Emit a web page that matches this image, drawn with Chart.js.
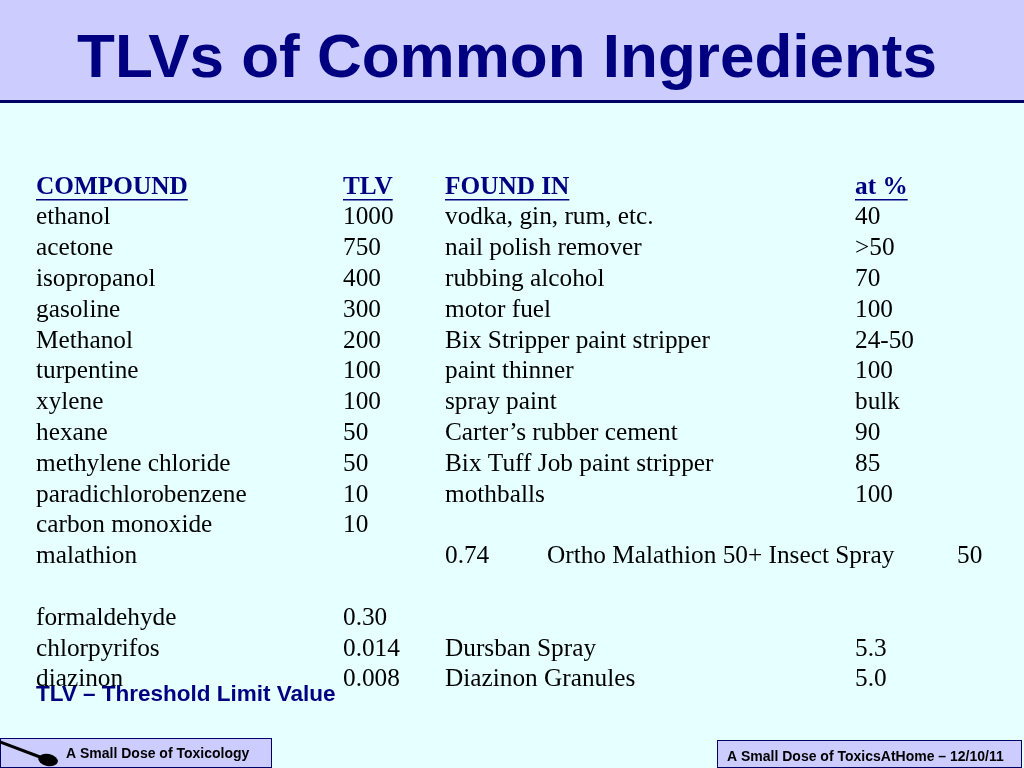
<!DOCTYPE html>
<html><head><meta charset="utf-8">
<script src="https://cdn.jsdelivr.net/npm/chart.js@4"></script>
<style>html,body{margin:0;padding:0;background:#e6ffff}canvas{display:block}</style>
</head><body>
<div style="width:1024px;height:768px"><canvas id="c"></canvas></div>
<script>
const title = "TLVs of Common Ingredients";
const headers = ["COMPOUND", "TLV", "FOUND IN", "at %"];
const compounds = ["ethanol","acetone","isopropanol","gasoline","Methanol","turpentine","xylene","hexane","methylene chloride","paradichlorobenzene","carbon monoxide","malathion","","formaldehyde","chlorpyrifos","diazinon"];
const tlvs = ["1000","750","400","300","200","100","100","50","50","10","10","","","0.30","0.014","0.008"];
const foundIn = ["vodka, gin, rum, etc.","nail polish remover","rubbing alcohol","motor fuel","Bix Stripper paint stripper","paint thinner","spray paint","Carter\u2019s rubber cement","Bix Tuff Job paint stripper","mothballs","","0.74","","","Dursban Spray","Diazinon Granules"];
const percents = ["40",">50","70","100","24-50","100","bulk","90","85","100","","Ortho Malathion 50+ Insect Spray","","","5.3","5.0"];
const extra = ["","","","","","","","","","","","50","","","",""];
const footnote = "TLV \u2013 Threshold Limit Value";
const footLeft = "A Small Dose of Toxicology";
const footRight = "A Small Dose of ToxicsAtHome \u2013 12/10/11";

const colX = [36, 343, 445, 855];
const serif = "25.3px 'Liberation Serif'";
const tablePlugin = {
  id: 'table',
  beforeDraw(chart) {
    const ctx = chart.ctx;
    ctx.save();
    ctx.fillStyle = '#e6ffff'; ctx.fillRect(0,0,1024,768);
    ctx.fillStyle = '#ccccff'; ctx.fillRect(0,0,1024,100);
    ctx.fillStyle = '#000066'; ctx.fillRect(0,100,1024,3);
    ctx.restore();
  },
  afterDraw(chart) {
    const ctx = chart.ctx, ys = chart.scales.y;
    ctx.save();
    ctx.textBaseline = 'middle';
    ctx.fillStyle = '#000080';
    ctx.font = "bold 62px 'Liberation Sans'"; ctx.textAlign = 'center';
    ctx.fillText(title, 507, 60);
    ctx.textAlign = 'left';
    ctx.font = "bold 25.3px 'Liberation Serif'";
    const hy = ys.getPixelForValue(0);
    headers.forEach((h,i)=>{
      ctx.fillText(h, colX[i], hy);
      const w = ctx.measureText(h).width;
      ctx.fillRect(colX[i], hy+12, w, 1.5);
    });
    ctx.fillStyle = '#000000'; ctx.font = serif;
    compounds.forEach((c,i)=>{
      const y = ys.getPixelForValue(i+1);
      ctx.fillText(c, colX[0], y);
      ctx.fillText(tlvs[i], colX[1], y);
      ctx.fillText(foundIn[i], colX[2], y);
      if (extra[i]) { ctx.fillText(percents[i], 547, y); ctx.fillText(extra[i], 957, y); }
      else ctx.fillText(percents[i], colX[3], y);
    });
    ctx.fillStyle = '#000080';
    ctx.font = "bold 22.5px 'Liberation Sans'";
    ctx.fillText(footnote, 36, 695);
    ctx.fillStyle = '#ccccff'; ctx.strokeStyle = '#000066'; ctx.lineWidth = 1;
    ctx.fillRect(0,738,272,30); ctx.strokeRect(0.5,738.5,271,29);
    ctx.fillRect(717,740,305,28); ctx.strokeRect(717.5,740.5,304,27);
    ctx.fillStyle = '#000000'; ctx.font = "bold 14px 'Liberation Sans'";
    ctx.fillText(footLeft, 66, 754);
    ctx.fillText(footRight, 727, 757);
    ctx.beginPath(); ctx.moveTo(0,742); ctx.lineTo(40,757); ctx.lineWidth = 3; ctx.strokeStyle='#000'; ctx.stroke();
    ctx.beginPath(); ctx.ellipse(48,760,10,6,0.2,0,Math.PI*2); ctx.fillStyle='#000'; ctx.fill();
    ctx.restore();
  }
};

new Chart(document.getElementById('c'), {
  type: 'scatter',
  data: { datasets: [{ data: [], pointRadius: 0 }] },
  options: {
    responsive: true, maintainAspectRatio: false, animation: false,
    layout: { padding: 0 },
    plugins: { legend: { display: false }, tooltip: { enabled: false } },
    scales: {
      x: { display: false, min: 0, max: 1024 },
      y: { display: false, reverse: true, min: -187/30.8, max: (768-187)/30.8 }
    }
  },
  plugins: [tablePlugin]
});
</script>
</body></html>
